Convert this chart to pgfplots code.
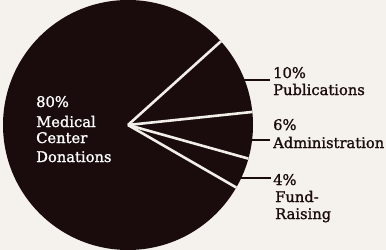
\documentclass[border=0pt]{standalone}
\usepackage{pgfplots}
\pgfplotsset{compat=1.18}
\usepackage{pgfplotstable}
\usepackage{fontspec}
\setmainfont{DejaVu Serif}
\newfontfamily\lblfont{DejaVu Serif}[FakeBold=1.3]
\definecolor{paper}{RGB}{245,241,236}
\definecolor{pie}{RGB}{26,12,13}
\definecolor{sep}{RGB}{242,238,232}
\tikzset{lbl/.style={anchor=base west, inner sep=0pt, font=\lblfont\fontsize{14.7bp}{17bp}\selectfont, text=pie}}
% shares of the budget (percent)
\pgfplotstableread{
label value
Publications 10
Administration 6
FundRaising 4
Medical 80
}\piedata
\pgfplotstablegetelem{0}{value}\of\piedata \let\vA\pgfplotsretval
\pgfplotstablegetelem{1}{value}\of\piedata \let\vB\pgfplotsretval
\pgfplotstablegetelem{2}{value}\of\piedata \let\vC\pgfplotsretval
\pgfmathsetmacro\aA{42}
\pgfmathsetmacro\aB{\aA-3.6*\vA}
\pgfmathsetmacro\aC{\aB-3.6*\vB}
\pgfmathsetmacro\aD{\aC-3.6*\vC}
\def\cx{128}\def\cy{125}\def\R{125}
\begin{document}
\begin{tikzpicture}
\begin{axis}[
  scale only axis, width=386bp, height=250bp,
  xmin=0, xmax=386, ymin=0, ymax=250,
  hide axis, clip=false,
]
\fill[paper] (axis cs:0,0) rectangle (axis cs:386,250);
% pie disc
\fill[pie] (axis cs:\cx,\cy) circle[radius=125bp];
% separators
\foreach \a in {\aA,\aB,\aC,\aD}{
  \edef\tmp{\noexpand\draw[sep, line width=2.6bp] (axis cs:\cx,\cy) -- (axis cs:{\cx+\R*cos(\a)},{\cy+\R*sin(\a)});}
  \tmp
}
% leader lines
\draw[pie, line width=2.4bp] (axis cs:243,170) -- (axis cs:270,170);
\draw[pie, line width=2.4bp] (axis cs:250,110) -- (axis cs:270,110);
\draw[pie, line width=2.4bp] (axis cs:240,72) -- (axis cs:271,72);
% labels
\node[lbl] at (axis cs:273,172) {10\%};
\node[lbl] at (axis cs:273,155) {Publications};
\node[lbl] at (axis cs:273,120) {6\%};
\node[lbl] at (axis cs:273,102) {Administration};
\node[lbl] at (axis cs:273,65) {4\%};
\node[lbl] at (axis cs:275,48) {Fund-};
\node[lbl] at (axis cs:275,31) {Raising};
\node[lbl, text=white] at (axis cs:36,143) {80\%};
\node[lbl, text=white] at (axis cs:36,123) {Medical};
\node[lbl, text=white] at (axis cs:36,107) {Center};
\node[lbl, text=white] at (axis cs:36,88) {Donations};
\end{axis}
\pgfresetboundingbox
\path (0,0) rectangle (386bp,250bp);
\end{tikzpicture}
\end{document}
